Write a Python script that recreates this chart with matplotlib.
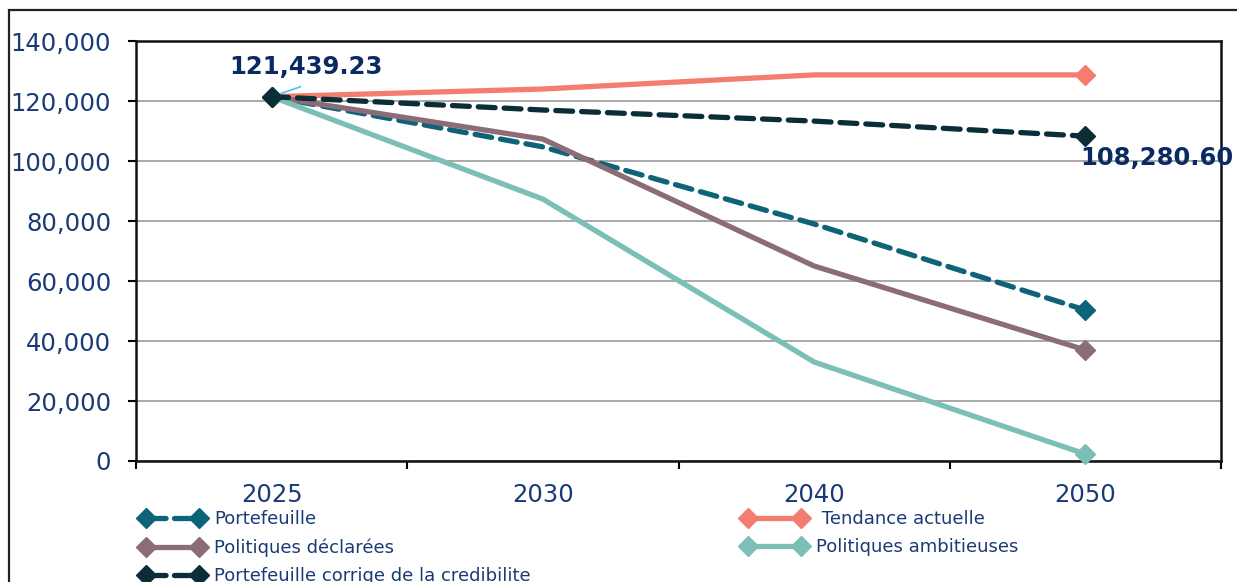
import matplotlib.pyplot as plt
from matplotlib.patches import Rectangle
from matplotlib.lines import Line2D

years = ["2025", "2030", "2040", "2050"]

portefeuille = [121439.23, 104700, 79000, 50300]
tendance = [121439.23, 124000, 128700, 128700]
declarees = [121439.23, 107300, 65000, 37000]
ambitieuses = [121439.23, 87300, 33000, 2300]
corrige = [121439.23, 117000, 113300, 108280.60]

navy = "#0B2A63"
text_col = "#1A3A75"

plt.rcParams["font.family"] = ["DejaVu Sans"]

fig = plt.figure(figsize=(12.37, 5.82), dpi=100)
ax = fig.add_axes([136 / 1237, 1 - 461 / 582, 1085 / 1237, 420 / 582])

# outer chart frame
fig.patches.append(Rectangle((9 / 1237, -0.1), 1.1, 1 - 10 / 582 + 0.1,
                             transform=fig.transFigure, fill=False,
                             edgecolor="#222222", linewidth=1.6, zorder=0))

x = list(range(len(years)))
series = [
    ("Portefeuille", portefeuille, "#0D6378", (0, (3.2, 1.7))),
    ("Tendance actuelle", tendance, "#F47C70", "-"),
    ("Politiques déclarées", declarees, "#8C6C77", "-"),
    ("Politiques ambitieuses", ambitieuses, "#7BBFB7", "-"),
    ("Portefeuille corrige de la credibilite", corrige, "#0A2D38", (0, (3.2, 1.7))),
]

handles = {}
for i, (name, vals, col, ls) in enumerate(series):
    ln, = ax.plot(x, vals, color=col, linestyle=ls, linewidth=3.8,
                  marker="D", markersize=10, markevery=[0, len(vals) - 1],
                  dash_capstyle="round", solid_capstyle="butt",
                  zorder=3 + i, clip_on=False)
    handles[name] = ln

ax.set_xlim(-0.5, 3.5)
ax.set_ylim(0, 140000)
ax.set_yticks(range(0, 140001, 20000))
ax.set_yticklabels([f"{v:,}" for v in range(0, 140001, 20000)])
ax.set_xticks(x)
ax.set_xticklabels(years)
ax.set_xticks([-0.5, 0.5, 1.5, 2.5, 3.5], minor=True)
ax.tick_params(axis="x", which="major", length=0, pad=16)
ax.tick_params(axis="x", which="minor", length=6, width=1.5, direction="out")
ax.tick_params(axis="y", length=6, width=1.5, direction="out", pad=12)
ax.tick_params(labelsize=17.5, labelcolor=text_col)
ax.grid(axis="y", color="#999999", linewidth=1.2)
ax.set_axisbelow(True)
for s in ax.spines.values():
    s.set_linewidth(1.8)
    s.set_color("#111111")

# value labels on the first and last points
ax.text(0.125, 131300, f"{corrige[0]:,.2f}", ha="center", va="center",
        fontsize=17.5, fontweight="bold", color=navy, zorder=10)
ax.annotate("", xy=(0, corrige[0]), xytext=(29, 10), textcoords="offset pixels",
            arrowprops=dict(arrowstyle="-", color="#4CC3F0", lw=1.2,
                            shrinkA=0, shrinkB=7), zorder=10)
ax.text(3 - 0.02, 101000, f"{corrige[3]:,.2f}", ha="left", va="center",
        fontsize=17.5, fontweight="bold", color=navy, zorder=10, clip_on=False)

left_names = ["Portefeuille", "Politiques déclarées",
              "Portefeuille corrige de la credibilite"]
right_names = ["Tendance actuelle", "Politiques ambitieuses"]

def proxy(name):
    ln = handles[name]
    return Line2D([], [], color=ln.get_color(), linestyle=ln.get_linestyle(),
                  linewidth=3.8, marker="D", markersize=10,
                  dash_capstyle="round")

leg_kw = dict(loc="upper left", frameon=False, fontsize=13, labelcolor=text_col,
              handlelength=3.5, handletextpad=0.55, labelspacing=0.58,
              borderaxespad=0, borderpad=0, numpoints=2)
fig.legend([proxy(n) for n in left_names], left_names,
           bbox_to_anchor=(141 / 1237, 1 - 510 / 582), **leg_kw)
fig.legend([proxy(n) for n in right_names],
           [" " + right_names[0], right_names[1]],
           bbox_to_anchor=(743 / 1237, 1 - 510 / 582), **leg_kw)

fig.savefig("out.png", dpi=100)
